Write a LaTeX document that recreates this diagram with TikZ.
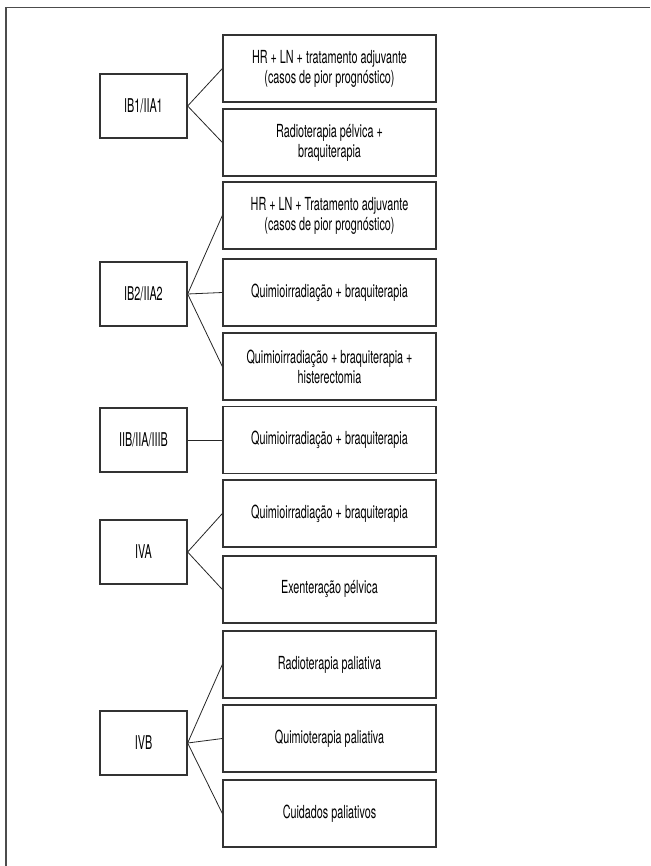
\documentclass[tikz,border=0pt]{standalone}
\usepackage{fontspec}
\setmainfont{TeX Gyre Heros}[FakeStretch=0.6]
\newfontfamily\stagefont{TeX Gyre Heros}[FakeStretch=0.57]
\usetikzlibrary{positioning}

\tikzset{
  stage/.style={draw=black!80, line width=1.3pt, minimum width=87pt, minimum height=64pt,
    inner sep=2pt, font=\stagefont\fontsize{19}{22}\selectfont},
  therapy/.style={draw=black!80, line width=1.3pt, minimum width=213pt, minimum height=67pt,
    inner sep=2pt, align=center, font=\fontsize{18}{20}\selectfont},
  link/.style={draw=black!85, line width=0.8pt}
}

\begin{document}
\begin{tikzpicture}[x=1pt,y=-1pt]
    \useasboundingbox (0,0) rectangle (650,866);
    % frame
    \draw[black!70, line width=1.8pt] (6,866) -- (6,7.5) -- (650,7.5);

    % stages
    \node[stage] (ib1) at (143.5,106) {IB1/IIA1};
    \node[stage] (ib2) at (143.5,294) {IB2/IIA2};
    \node[stage] (iib) at (143.5,440) {IIB/IIA/IIIB};
    \node[stage] (iva) at (143.5,552) {IVA};
    \node[stage] (ivb) at (143.5,743) {IVB};

    % treatments
    \node[therapy] (ib1a) at (329.5,68.5) {HR + LN + tratamento adjuvante\\(casos de pior prognóstico)};
    \node[therapy] (ib1b) at (329.5,142.5) {Radioterapia pélvica +\\braquiterapia};
    \node[therapy] (ib2a) at (329.5,215.5) {HR + LN + Tratamento adjuvante\\(casos de pior prognóstico)};
    \node[therapy] (ib2b) at (329.5,292.5) {Quimioirradiação + braquiterapia};
    \node[therapy] (ib2c) at (329.5,366.5) {Quimioirradiação + braquiterapia +\\histerectomia};
    \node[therapy] (iiba) at (329.5,440) {Quimioirradiação + braquiterapia};
    \node[therapy] (ivaa) at (329.5,513.5) {Quimioirradiação + braquiterapia};
    \node[therapy] (ivab) at (329.5,589.5) {Exenteração pélvica};
    \node[therapy] (ivba) at (329.5,664.5) {Radioterapia paliativa};
    \node[therapy] (ivbb) at (329.5,738.5) {Quimioterapia paliativa};
    \node[therapy] (ivbc) at (329.5,813.5) {Cuidados paliativos};

    % links
    \foreach \t in {ib1a,ib1b} \draw[link] (ib1.east) -- (\t.west);
    \foreach \t in {ib2a,ib2b,ib2c} \draw[link] (ib2.east) -- (\t.west);
    \draw[link] (iib.east) -- (iiba.west);
    \foreach \t in {ivaa,ivab} \draw[link] (iva.east) -- (\t.west);
    \foreach \t in {ivba,ivbb,ivbc} \draw[link] (ivb.east) -- (\t.west);
\end{tikzpicture}
\end{document}
